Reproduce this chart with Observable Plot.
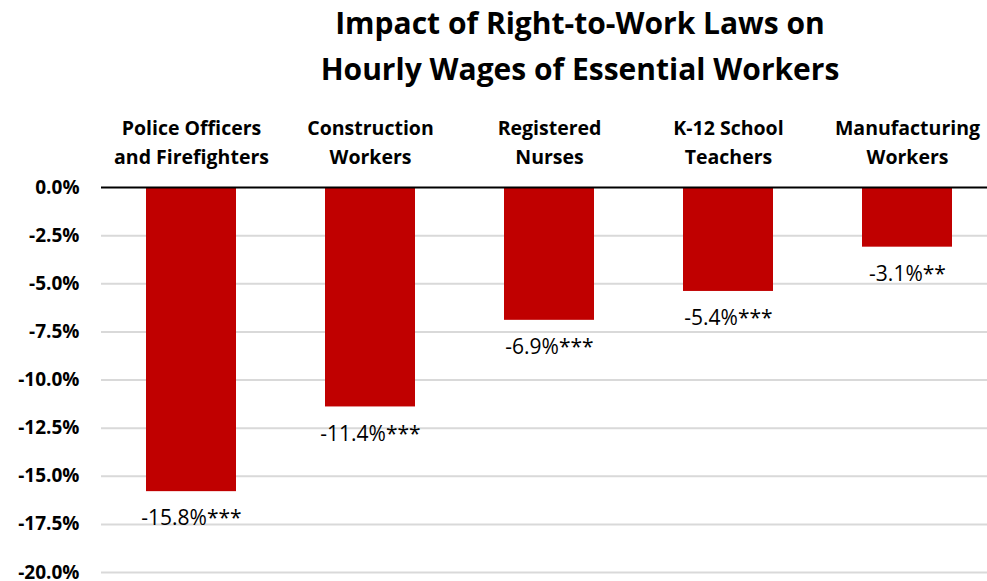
<!DOCTYPE html>
<html>
<head>
<meta charset="utf-8">
<script src="https://cdn.jsdelivr.net/npm/d3@7"></script>
<script src="https://cdn.jsdelivr.net/npm/@observablehq/plot@0.6"></script>
<style>
  html, body { margin: 0; padding: 0; background: #fff; overflow: hidden; }
  #title { box-sizing: border-box; width: 987px; height: 100px; padding-left: 173px;
    text-align: center; font-family: "Open Sans", sans-serif; font-weight: bold; font-size: 30px;
    line-height: 46px; color: #000; }
  svg { display: block; overflow: visible; }
</style>
</head>
<body>
<div id="title">Impact of Right-to-Work Laws on<br>Hourly Wages of Essential Workers</div>
<div id="chart"></div>
<script>
const categories = ["Police Officers\nand Firefighters", "Construction\nWorkers", "Registered\nNurses", "K-12 School\nTeachers", "Manufacturing\nWorkers"];
const values = [-15.8, -11.4, -6.9, -5.4, -3.1];
const significance = ["***", "***", "***", "***", "**"];
const yTicks = [0, -2.5, -5, -7.5, -10, -12.5, -15, -17.5, -20];

const data = categories.map((c, i) => ({category: c, value: values[i], label: values[i].toFixed(1) + "%" + significance[i]}));

const chart = Plot.plot({
  width: 987,
  height: 481,
  marginTop: 87,
  marginBottom: 9,
  marginLeft: 101,
  marginRight: 0,
  style: {fontFamily: "'Open Sans', sans-serif", color: "#000", background: "#fff", overflow: "visible"},
  x: {domain: categories, range: [101, 996], paddingInner: 0.5, paddingOuter: 0.25, axis: null},
  y: {domain: [-20, 0], ticks: yTicks, axis: null},
  marks: [
    Plot.ruleY(yTicks.filter(d => d !== 0), {stroke: "#d9d9d9", strokeWidth: 2}),
    Plot.barY(data, {x: "category", y: "value", fill: "#C00000"}),
    Plot.ruleY([0], {stroke: "#000", strokeWidth: 2}),
    Plot.axisY({ticks: yTicks, tickSize: 0, tickPadding: 22, tickFormat: d => d.toFixed(1) + "%", fontSize: 19, fontWeight: "bold", label: null}),
    Plot.text(data, {x: "category", frameAnchor: "top", text: "category", lineAnchor: "bottom", dy: -24, lineHeight: 1.45, fontSize: 19.5, fontWeight: "bold", fill: "#000"}),
    Plot.text(data, {x: "category", y: "value", text: "label", lineAnchor: "middle", dy: 27, fontSize: 21, fill: "#000"})
  ]
});
document.getElementById("chart").appendChild(chart);
</script>
</body>
</html>
